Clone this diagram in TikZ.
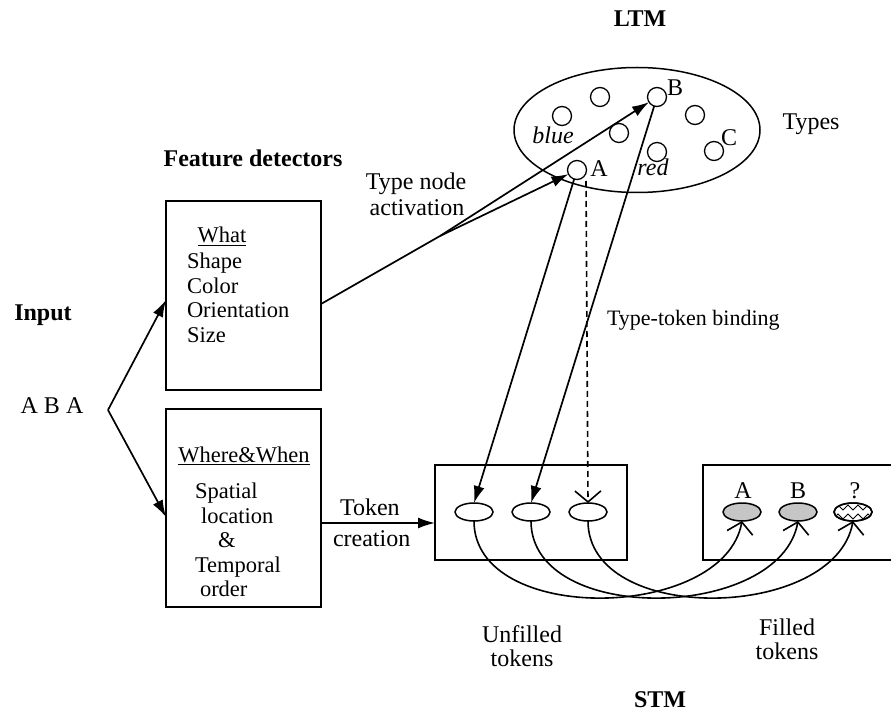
\documentclass[tikz,border=0pt]{standalone}
\usepackage{fontspec}
\setmainfont{Liberation Serif}
\usetikzlibrary{shapes.geometric,arrows.meta}
\begin{document}
\begin{tikzpicture}[x=1pt,y=-1pt,
  every node/.style={inner sep=0pt, outer sep=0pt},
  txt/.style={font=\fontsize{24}{24}\selectfont},
  big/.style={font=\fontsize{22.5}{24.5}\selectfont},
  small/.style={font=\fontsize{22}{24}\selectfont},
  bld/.style={font=\fontsize{24}{24}\selectfont\bfseries},
  itl/.style={font=\fontsize{24}{24}\selectfont\itshape},
  tcirc/.style={draw, circle, minimum size=19pt, line width=1.3pt},
  box/.style={draw, line width=1.5pt},
  tok/.style={draw, ellipse, minimum width=38pt, minimum height=18pt, line width=1.5pt},
  arr/.style={line width=1.7pt, -{Latex[length=17pt,width=11pt]}},
  barb/.style={line width=1.6pt, -{Straight Barb[length=11pt,width=26pt]}},
]
\useasboundingbox (0,0) rectangle (891,711);

% ---------- LTM ----------
\node[bld, anchor=base] (ltm) at (640,27) {LTM};
\node[draw, ellipse, minimum width=246pt, minimum height=125pt, line width=1.5pt] (ltmell) at (637,130) {};
\node[tcirc] (cA) at (577,170) {};
\node[tcirc] (cB) at (657,97) {};
\node[tcirc] (cC) at (714,151) {};
\node[tcirc] (c1) at (600,97) {};
\node[tcirc] (c2) at (562,116) {};
\node[tcirc] (c3) at (695,115) {};
\node[tcirc] (c4) at (619,133) {};
\node[tcirc] (c5) at (657,152) {};
\node[txt] (labA) at (599,169) {A};
\node[txt] (labB) at (675,88) {B};
\node[txt] (labC) at (729,138) {C};
\node[itl, anchor=base] (blue) at (553,144) {blue};
\node[itl, anchor=base] (red) at (653,176) {red};
\node[txt, anchor=base] (types) at (811,130) {Types};

% ---------- left side ----------
\node[bld, anchor=base] (feat) at (253,167) {Feature  detectors};
\node[bld, anchor=base] (input) at (43,320) {Input};
\node[txt, anchor=base] (aba) at (52,413) {A B A};

\node[box, minimum width=155pt, minimum height=189pt] (whatbox) at (243.5,295.5) {};
\node[big, anchor=base] (what) at (222,243) {\underline{What}};
\node[big, align=left, anchor=north west] (wlist) at (187,253) {Shape\\Color\\Orientation\\Size};

\node[box, minimum width=155pt, minimum height=198pt] (wherebox) at (243.5,508) {};
\node[big, anchor=base] (where) at (244,462) {\underline{Where\&When}};
\node[big, align=left, anchor=north west] (wlist2) at (195,483)
  {Spatial\\\hspace*{6pt}location\\\hspace*{23pt}\&\\Temporal\\\hspace*{5pt}order};

\coordinate (iv) at (108,410);
\draw[arr] (iv) -- ([yshift=-4.5pt]whatbox.west);
\draw[arr] (iv) -- ([yshift=-9pt]wherebox.west);

% ---------- STM ----------
\node[box, minimum width=192pt, minimum height=95pt] (unfbox) at (531,512.5) {};
\node[box, minimum width=190pt, minimum height=95pt] (filbox) at (798,512.5) {};

\node[tok] (tok1) at (474,512) {};
\node[tok] (tok2) at (531,512) {};
\node[tok] (tok3) at (588,512) {};

\node[tok, fill=gray!45] (ftA) at (742,512) {};
\node[tok, fill=gray!45] (ftB) at (798,512) {};
\node[tok] (ftQ) at (853,512) {};
\begin{scope}
  \clip (853,512) ellipse (19 and 9);
  \draw[line width=1pt] (833,510) -- (838,505) -- (843,510) -- (848,505) -- (853,510) -- (858,505) -- (863,510) -- (868,505) -- (873,510);
  \draw[line width=1pt] (833,519) -- (838,514) -- (843,519) -- (848,514) -- (853,519) -- (858,514) -- (863,519) -- (868,514) -- (873,519);
\end{scope}
\node[tok] at (853,512) {};
\node[txt, anchor=base] (ltA) at (743,498) {A};
\node[txt, anchor=base] (ltB) at (798,498) {B};
\node[txt, anchor=base] (ltQ) at (855,498) {?};

\draw[arr] ([yshift=-15pt]wherebox.east) -- ([yshift=-10.5pt]unfbox.west);
\node[txt, anchor=base west] (tc1) at (340,515) {Token};
\node[txt, anchor=base west] (tc2) at (333,546) {creation};

\draw[barb] (tok1.south) .. controls +(0,105) and +(-18,100) .. (ftA.south);
\draw[barb] (tok2.south) .. controls +(0,105) and +(-18,100) .. (ftB.south);
\draw[barb] (tok3.south) .. controls +(0,105) and +(-18,100) .. (ftQ.south);

\node[txt, align=center, anchor=north] (unf) at (522,626) {Unfilled\\tokens};
\node[txt, align=center, anchor=north] (fil) at (787,619) {Filled\\tokens};
\node[bld, anchor=base] (stm) at (660,707) {STM};

% ---------- activation / binding ----------
\coordinate (jn) at (440,236);
\draw[line width=1.7pt] ([yshift=-8.5pt]whatbox.east) -- (jn);
\draw[arr] (jn) -- (cB);
\draw[arr] (jn) -- (cA);
\node[txt, anchor=base] (tna1) at (416,190) {Type node};
\node[txt, anchor=base] (tna2) at (417,216) {activation};

\draw[arr] (cA) -- (tok1.north);
\draw[arr] (cB) -- (tok2.north);
\coordinate (dtop) at (586,181);
\draw[barb, dashed, dash pattern=on 6pt off 4pt] (dtop) -- (tok3.north);
\node[small, anchor=base west] (ttb) at (607,325) {Type-token binding};
\end{tikzpicture}
\end{document}
